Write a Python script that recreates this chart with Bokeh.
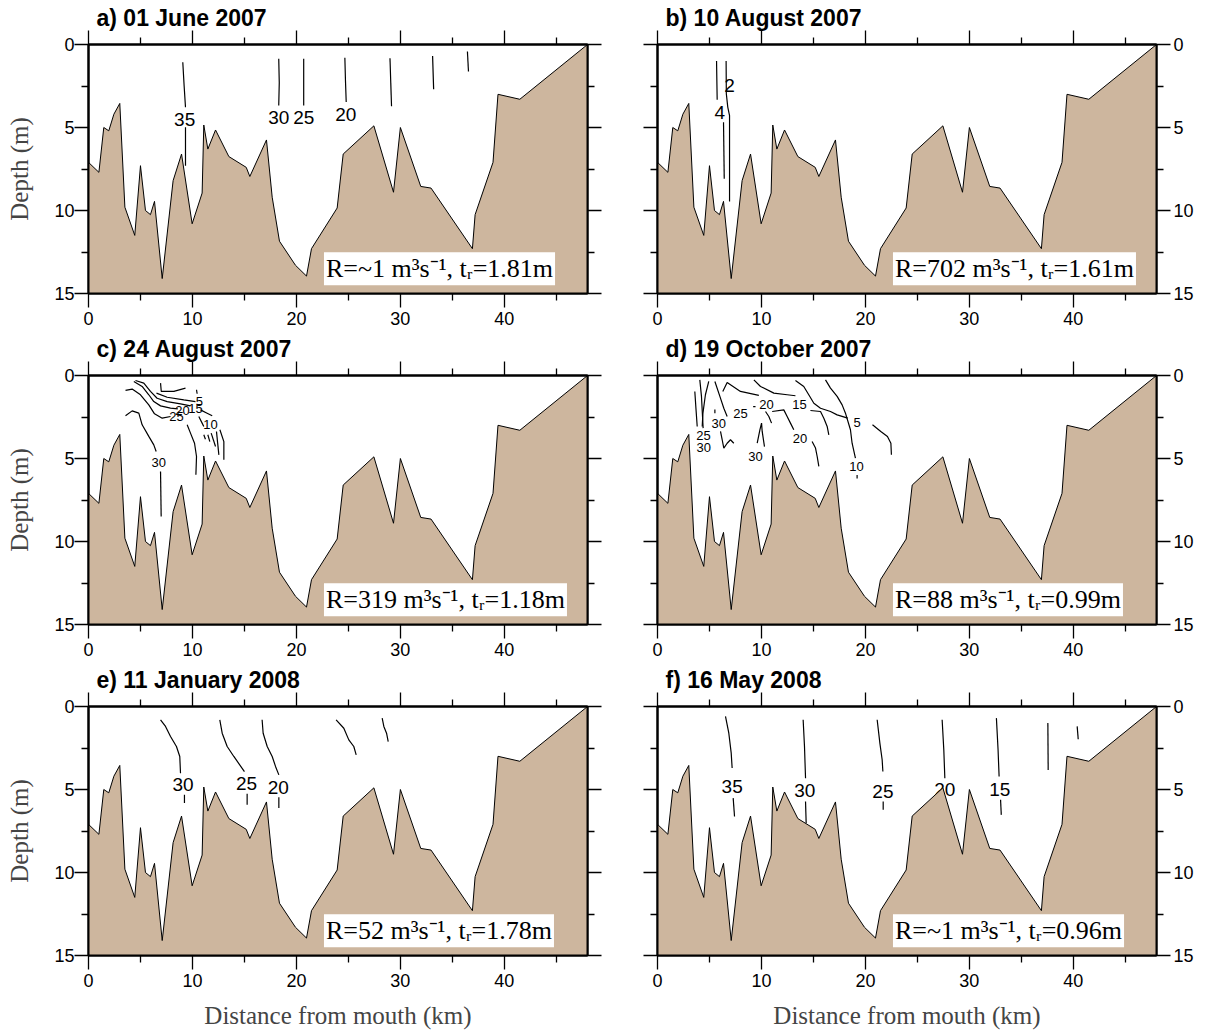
from bokeh.plotting import figure
from bokeh.models import Range1d, LinearAxis, FixedTicker, Label
from bokeh.layouts import column, row
from bokeh.embed import file_html
from bokeh.resources import INLINE
from bokeh.core.properties import value

# ---------------- data ----------------
bathy_km = [0.0, 1.0, 1.47, 1.95, 2.44, 3.01, 3.5, 4.45, 5.0, 5.48, 5.96, 6.35, 7.09, 8.14, 8.95,
            9.97, 10.93, 11.09, 11.48, 12.22, 13.5, 15.17, 15.52, 17.12, 17.67, 18.37, 19.91,
            20.97, 21.45, 23.92, 24.5, 27.45, 29.34, 30.0, 31.96, 32.95, 36.93, 37.19, 38.91,
            39.39, 41.49, 48.0]
bathy_depth = [7.1, 7.7, 5.0, 5.2, 4.2, 3.55, 9.8, 11.5, 7.3, 10.0, 10.25, 9.45, 14.1, 8.2, 6.6,
               10.8, 8.95, 4.85, 6.3, 5.15, 6.75, 7.4, 7.95, 5.75, 9.2, 11.85, 13.3,
               13.95, 12.3, 9.85, 6.6, 4.9, 8.9, 5.0, 8.55, 8.65, 12.3, 10.25, 7.1,
               3.0, 3.3, 0.0]

titles = ["a) 01 June 2007", "b) 10 August 2007", "c) 24 August 2007",
          "d) 19 October 2007", "e) 11 January 2008", "f) 16 May 2008"]
annotations = ["R=~1 m\u00b3s\u207b\u00b9, t\u1d63=1.81m", "R=702 m\u00b3s\u207b\u00b9, t\u1d63=1.61m",
               "R=319 m\u00b3s\u207b\u00b9, t\u1d63=1.18m", "R=88 m\u00b3s\u207b\u00b9, t\u1d63=0.99m",
               "R=52 m\u00b3s\u207b\u00b9, t\u1d63=1.78m", "R=~1 m\u00b3s\u207b\u00b9, t\u1d63=0.96m"]

# salinity contours (km, depth)
a_xs = [[9.07, 9.2, 9.33], [9.33, 9.33], [18.3, 18.35, 18.3], [20.7, 20.7], [24.66, 24.72, 24.79],
        [29.0, 29.15], [33.1, 33.2], [36.45, 36.55]]
a_ys = [[1.07, 2.5, 3.78], [4.98, 7.3], [0.86, 2.3, 3.67], [0.86, 3.67], [0.8, 2.2, 3.47],
        [0.83, 3.72], [0.69, 2.7], [0.42, 1.63]]
a_lbl = ["35", "30", "25", "20"]
a_lx = [9.25, 18.3, 20.7, 24.75]
a_ly = [4.52, 4.38, 4.38, 4.22]

b_xs = [[5.68, 5.71, 5.74], [6.35, 6.42], [6.6, 6.62, 6.76, 6.93, 6.93]]
b_ys = [[1.0, 2.2, 3.33], [4.68, 8.09], [1.0, 2.97, 3.77, 4.28, 9.46]]
b_lbl = ["4", "2"]
b_lx = [5.98, 6.93]
b_ly = [4.12, 2.47]

c_xs = [[3.56, 4.2, 4.84, 5.16, 5.8, 6.28, 6.51], [6.93, 6.99],
        [3.56, 4.2, 5.0, 5.8, 6.35, 7.09, 7.89],
        [4.36, 5.16, 5.8, 6.28, 6.93, 7.89, 8.59],
        [4.52, 5.32, 5.96, 6.6, 7.57, 8.85, 9.81],
        [6.54, 7.57, 9.17, 10.29], [6.93, 7.0, 8.21, 9.33], [10.39, 10.45],
        [9.49, 9.81, 10.2, 10.39, 10.33], [10.61, 10.93, 11.09], [11.09, 11.25],
        [11.48, 11.67], [11.8, 12.22], [12.31, 12.54], [12.64, 13.02, 13.02],
        [10.77, 11.41, 11.9]]
c_ys = [[2.43, 2.13, 2.27, 2.97, 3.67, 4.18, 4.58], [5.78, 8.49],
        [0.9, 0.82, 1.16, 1.77, 2.31, 2.57, 2.47],
        [0.36, 0.66, 1.16, 1.57, 1.83, 1.97, 2.01],
        [0.30, 0.46, 0.96, 1.37, 1.57, 1.71, 1.83],
        [1.06, 1.31, 1.47, 1.57], [0.46, 0.96, 0.96, 0.76], [0.86, 1.1],
        [2.97, 3.47, 4.08, 4.88, 5.98], [2.47, 2.87, 3.07], [3.57, 3.84],
        [3.57, 3.98], [3.47, 4.28], [3.37, 4.78], [3.27, 3.98, 5.08],
        [2.07, 2.27, 2.43]]
c_lbl = ["30", "25", "20", "15", "5", "10"]
c_lx = [6.75, 8.46, 9.04, 10.29, 10.67, 11.73]
c_ly = [5.24, 2.47, 2.11, 1.99, 1.57, 2.95]

d_xs = [[3.59, 3.7, 3.82], [4.07, 4.23, 4.39], [4.93, 4.61, 4.37, 4.3], [5.52, 5.52],
        [5.52, 6.0, 6.38, 6.7], [6.28, 6.7, 7.98, 9.75], [9.2, 9.43],
        [9.27, 9.91, 11.19, 12.47, 13.27],
        [13.27, 14.07, 14.55, 15.04, 15.68, 16.64, 17.28, 18.3],
        [16.16, 16.64, 17.28, 17.76, 18.08, 18.56, 18.72, 19.04], [19.2, 19.2],
        [20.68, 21.48, 22.12, 22.45, 22.5], [14.71, 15.68, 16.0, 16.32, 16.48],
        [11.03, 12.15, 12.47, 12.79, 13.11], [14.87, 15.2, 15.36, 15.52],
        [10.39, 10.71, 10.97], [9.59, 9.85, 10.01, 10.07, 10.29],
        [6.06, 6.22, 6.38, 6.7, 7.02, 7.34]]
d_ys = [[0.96, 2.0, 3.07], [0.26, 1.26, 3.17], [0.36, 1.16, 2.27, 3.07], [2.05, 2.27],
        [0.36, 1.26, 1.97, 2.47], [0.96, 0.42, 0.96, 1.2], [1.87, 1.87],
        [0.26, 0.66, 1.06, 1.16, 1.22],
        [0.3, 0.66, 1.16, 1.67, 1.97, 2.17, 2.37, 2.57],
        [0.26, 0.76, 1.26, 1.77, 2.27, 3.27, 4.08, 4.98], [6.0, 6.2],
        [2.97, 3.37, 3.67, 4.08, 4.78], [2.11, 2.17, 2.57, 3.07, 3.57],
        [2.17, 2.07, 2.47, 2.87, 3.27], [3.97, 4.37, 4.88, 5.48],
        [2.17, 2.47, 2.87], [4.08, 3.27, 2.87, 3.37, 4.28],
        [3.37, 3.87, 4.38, 4.08, 3.87, 4.08]]
d_lbl = ["30", "25", "20", "15", "5", "25", "30", "20", "30", "10"]
d_lx = [5.9, 7.98, 10.49, 13.66, 19.2, 4.42, 4.45, 13.7, 9.43, 19.14]
d_ly = [2.87, 2.27, 1.77, 1.77, 2.83, 3.6, 4.35, 3.8, 4.85, 5.5]

e_xs = [[6.93, 7.41, 7.89, 8.46, 8.78, 8.85], [9.23, 9.23],
        [12.63, 12.86, 13.34, 13.98, 15.0], [15.26, 15.26],
        [16.7, 16.8, 17.19, 17.67, 17.99, 18.31], [18.31, 18.31],
        [23.82, 24.56, 25.04, 25.52, 25.75], [28.25, 28.41, 28.67, 28.83]]
e_ys = [[0.8, 1.2, 1.81, 2.41, 3.01, 4.02], [5.32, 5.82],
        [0.8, 1.61, 2.41, 3.01, 3.92], [5.26, 5.92],
        [0.8, 1.61, 2.41, 3.01, 3.61, 4.12], [5.46, 6.12],
        [0.8, 1.31, 2.01, 2.41, 2.91], [0.7, 1.2, 1.61, 2.11]]
e_lbl = ["30", "25", "20"]
e_lx = [9.1, 15.2, 18.25]
e_ly = [4.72, 4.66, 4.88]

f_xs = [[6.54, 6.86, 7.09, 7.18], [7.28, 7.41], [14.01, 14.14, 14.24], [14.24, 14.3],
        [21.13, 21.39, 21.61, 21.68], [21.71, 21.71], [27.38, 27.54, 27.64],
        [32.6, 32.76, 32.86], [33.0, 33.07], [37.55, 37.58], [40.37, 40.47]]
f_ys = [[0.6, 1.61, 2.81, 3.71], [5.52, 6.63], [0.8, 2.41, 4.32], [5.72, 7.03],
        [0.8, 2.21, 3.21, 3.92], [5.72, 6.22], [0.8, 2.61, 4.32],
        [0.7, 2.61, 4.22], [5.62, 6.53], [1.0, 3.82], [1.2, 1.97]]
f_lbl = ["35", "30", "25", "20", "15"]
f_lx = [7.18, 14.17, 21.68, 27.64, 32.92]
f_ly = [4.82, 5.08, 5.12, 5.02, 4.98]

x_ticks = [0, 10, 20, 30, 40]
x_minor = [5, 15, 25, 35, 45]
y_ticks = [0, 5, 10, 15]
y_minor = [2.5, 7.5, 12.5]

SANS = "Liberation Sans"
SERIF = "Liberation Serif"
BATHY_COLOR = "#CDB69E"


def style_axis(ax, ticks, minor, labelled):
    ax.ticker = FixedTicker(ticks=ticks, minor_ticks=minor)
    ax.axis_line_width = 2
    ax.axis_line_color = "black"
    ax.major_tick_out = 14
    ax.major_tick_in = 0
    ax.minor_tick_out = 7
    ax.minor_tick_in = 0
    ax.major_tick_line_width = 1.3
    ax.minor_tick_line_width = 1.3
    ax.major_tick_line_color = "black"
    ax.minor_tick_line_color = "black"
    if labelled:
        ax.major_label_text_font = SANS
        ax.major_label_text_font_size = "18px"
        ax.major_label_text_color = "black"
    else:
        ax.major_label_text_font_size = "0px"
        ax.major_label_text_color = None
        ax.major_label_standoff = 0


def make_panel(idx, xs, ys, lbl, lx, ly, lsize, top, bottom, right_side, xlabel):
    left_b = 35 if right_side else 88
    right_b = 50 if right_side else 35
    p = figure(frame_width=499, frame_height=249, x_range=Range1d(0, 48), y_range=Range1d(15, 0),
               output_backend="svg", toolbar_location=None, title=titles[idx],
               min_border_left=left_b, min_border_right=right_b,
               min_border_top=top, min_border_bottom=bottom,
               background_fill_color="white", border_fill_color="white")
    p.title.align = "left"
    p.title.offset = 8
    p.title.standoff = 0
    p.title.text_font = SANS
    p.title.text_font_size = "23px"
    p.title.text_font_style = "bold"
    p.title.text_color = "black"
    p.xgrid.visible = False
    p.ygrid.visible = False
    p.outline_line_color = "black"
    p.outline_line_width = 2

    # bottom axis
    style_axis(p.xaxis[0], x_ticks, x_minor, True)
    p.xaxis[0].major_label_standoff = 4
    if xlabel:
        p.xaxis[0].axis_label = "Distance from mouth (km)"
        p.xaxis[0].axis_label_text_font = SERIF
        p.xaxis[0].axis_label_text_font_size = "25px"
        p.xaxis[0].axis_label_text_font_style = "normal"
        p.xaxis[0].axis_label_standoff = 12
    # top axis
    top_ax = LinearAxis()
    style_axis(top_ax, x_ticks, x_minor, False)
    p.add_layout(top_ax, "above")

    # left axis
    style_axis(p.yaxis[0], y_ticks, y_minor, not right_side)
    if not right_side:
        p.yaxis[0].major_label_standoff = 0
        p.yaxis[0].axis_label = "Depth (m)"
        p.yaxis[0].axis_label_text_font = SERIF
        p.yaxis[0].axis_label_text_font_size = "25px"
        p.yaxis[0].axis_label_text_font_style = "normal"
        p.yaxis[0].axis_label_standoff = 18
    # right axis
    r_ax = LinearAxis()
    style_axis(r_ax, y_ticks, y_minor, right_side)
    if right_side:
        r_ax.major_label_standoff = 3
    p.add_layout(r_ax, "right")

    # contours (drawn under the bathymetry)
    p.multi_line(xs=xs, ys=ys, line_color="black", line_width=1.2)
    p.text(x=lx, y=ly, text=lbl, text_font=value(SANS), text_font_size=lsize,
           text_align="center", text_baseline="middle", text_color="black")

    # bathymetry
    p.varea(x=bathy_km, y1=bathy_depth, y2=[15] * len(bathy_km), fill_color=BATHY_COLOR)
    p.line(x=bathy_km, y=bathy_depth, line_color="black", line_width=1)

    # annotation box
    p.add_layout(Label(x=22.65, y=14.5, text=annotations[idx], text_font=SERIF,
                       text_font_size="26px", text_align="left", text_baseline="bottom",
                       text_color="black", background_fill_color="white", padding=2))
    return p


pa = make_panel(0, a_xs, a_ys, a_lbl, a_lx, a_ly, "19px", 44, 40, False, False)
pb = make_panel(1, b_xs, b_ys, b_lbl, b_lx, b_ly, "19px", 44, 40, True, False)
pc = make_panel(2, c_xs, c_ys, c_lbl, c_lx, c_ly, "13px", 42, 40, False, False)
pd = make_panel(3, d_xs, d_ys, d_lbl, d_lx, d_ly, "13px", 42, 40, True, False)
pe = make_panel(4, e_xs, e_ys, e_lbl, e_lx, e_ly, "19px", 42, 70, False, True)
pf = make_panel(5, f_xs, f_ys, f_lbl, f_lx, f_ly, "19px", 42, 70, True, True)

layout = column(row(pa, pb), row(pc, pd), row(pe, pf))
open("out.html", "w").write(file_html(layout, INLINE))
